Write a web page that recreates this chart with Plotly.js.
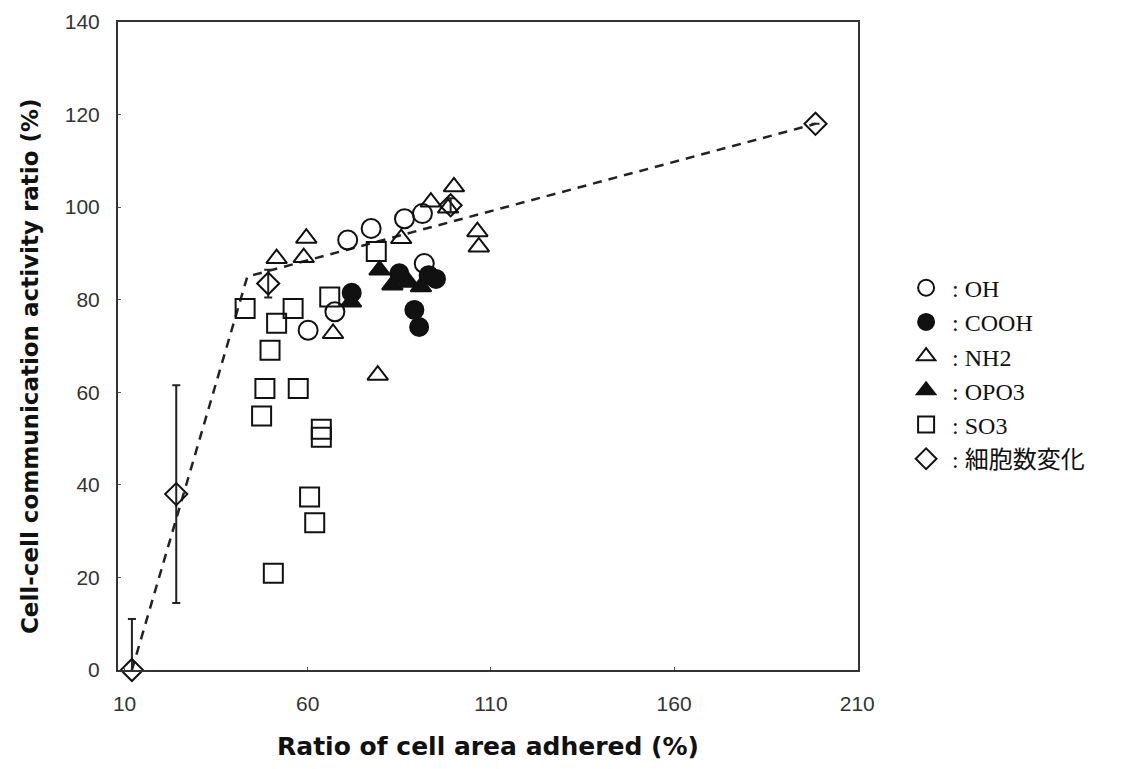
<!DOCTYPE html>
<html>
<head>
<meta charset="utf-8">
<script src="https://cdn.plot.ly/plotly-3.0.1.min.js"></script>
<style>html,body{margin:0;padding:0;background:#fff;}#chart{width:1126px;height:769px;}</style>
</head>
<body>
<div id="chart"></div>
<script>
// ---- data ----
const ohX = [60.1, 67.4, 70.9, 77.3, 86.4, 91.3, 91.8];
const ohY = [73.4, 77.4, 92.9, 95.4, 97.5, 98.6, 87.8];

const coohX = [72.0, 85.0, 93.0, 95.0, 89.1, 90.4];
const coohY = [81.5, 85.7, 85.3, 84.5, 77.8, 74.1];

const nh2X = [59.6, 51.5, 58.9, 66.9, 79.1, 85.5, 93.6, 99.9, 98.3, 106.3, 106.7];
const nh2Y = [93.3, 88.9, 89.1, 72.7, 63.7, 93.2, 101.1, 104.4, 99.8, 94.7, 91.4];

const opo3X = [71.8, 79.6, 83.1, 87.5, 90.9];
const opo3Y = [79.5, 86.4, 83.2, 83.8, 82.8];

const so3X = [42.9, 56.0, 51.5, 49.7, 48.3, 57.4, 47.4, 63.7, 63.7, 60.5, 61.9, 50.6, 66.0, 78.7];
const so3Y = [78.1, 78.1, 74.9, 69.1, 60.8, 60.8, 54.9, 52.0, 50.3, 37.4, 31.8, 20.9, 80.6, 90.4];

const cellX = [12, 24.1, 49.2, 99.0, 198.6];
const cellY = [0, 38.0, 83.5, 100.4, 118.0];
const cellErr = [11, 23.5, 3, 1.5, 0];

const fitX = [12, 43.5, 198.6];
const fitY = [0, 85.0, 118.0];

const xTicks = [10, 60, 110, 160, 210];
const yTicks = [0, 20, 40, 60, 80, 100, 120, 140];

const names = ['\u00a0: OH', '\u00a0: COOH', '\u00a0: NH2', '\u00a0: OPO3', '\u00a0: SO3', '\u00a0: 細胞数変化'];
const xTitle = 'Ratio of cell area adhered (%)';
const yTitle = 'Cell-cell communication activity ratio (%)';

// ---- styling ----
const ink = '#111';
const mk = (sym, size) => ({symbol: sym, size: size, color: ink, line: {color: ink, width: 2}});

const traces = [
  {x: fitX, y: fitY, mode: 'lines', line: {color: '#222', width: 2.5, dash: '9px,7px'}, showlegend: false, hoverinfo: 'skip'},
  {x: ohX, y: ohY, mode: 'markers', name: names[0], marker: mk('circle-open', 19)},
  {x: coohX, y: coohY, mode: 'markers', name: names[1], marker: mk('circle', 18)},
  {x: nh2X, y: nh2Y, mode: 'markers', name: names[2], marker: mk('triangle-up-open', 18)},
  {x: opo3X, y: opo3Y, mode: 'markers', name: names[3], marker: mk('triangle-up', 18)},
  {x: so3X, y: so3Y, mode: 'markers', name: names[4], marker: mk('square-open', 19)},
  {x: cellX, y: cellY, mode: 'markers', name: names[5], marker: mk('diamond-open', 17), cliponaxis: false,
   error_y: {type: 'data', array: cellErr, visible: true, color: '#222', thickness: 2, width: 4}}
];

const tickFont = {family: 'Liberation Sans, Arial, sans-serif', size: 21, color: '#333'};
const titleFont = {family: 'DejaVu Sans, sans-serif', size: 25, color: '#111', weight: 'bold'};
const yTitleFont = {family: 'DejaVu Sans, sans-serif', size: 23, color: '#111', weight: 'bold'};

const layout = {
  width: 1126, height: 769,
  margin: {l: 118, r: 268, t: 22, b: 99},
  paper_bgcolor: '#fff', plot_bgcolor: '#fff',
  xaxis: {
    range: [8.2, 210.2], tickvals: xTicks, ticktext: xTicks.map(String),
    showgrid: false, zeroline: false, showline: true, mirror: true,
    linecolor: '#333', linewidth: 2, ticks: 'inside', ticklen: 3, tickcolor: '#555',
    tickfont: tickFont, ticklabelstandoff: 14,
    title: {text: xTitle, font: titleFont, standoff: 23}
  },
  yaxis: {
    range: [0, 140], tickvals: yTicks, ticktext: yTicks.map(String),
    showgrid: false, zeroline: false, showline: true, mirror: true,
    linecolor: '#333', linewidth: 2, ticks: 'inside', ticklen: 3, tickcolor: '#555',
    tickfont: tickFont, ticklabelstandoff: 12
  },
  annotations: [{
    text: yTitle, font: yTitleFont, textangle: -90, showarrow: false,
    xref: 'paper', yref: 'paper', x: -0.119, y: 0.469, xanchor: 'center', yanchor: 'middle'
  }],
  legend: {
    x: 1.065, y: 0.624, xanchor: 'left', yanchor: 'top',
    font: {family: 'Liberation Serif, Times New Roman, Noto Sans CJK JP, serif', size: 24, color: '#111'},
    bgcolor: 'rgba(0,0,0,0)', tracegroupgap: 0, itemsizing: 'trace'
  },
  showlegend: true
};

Plotly.newPlot('chart', traces, layout, {displayModeBar: false, staticPlot: true});
</script>
</body>
</html>
